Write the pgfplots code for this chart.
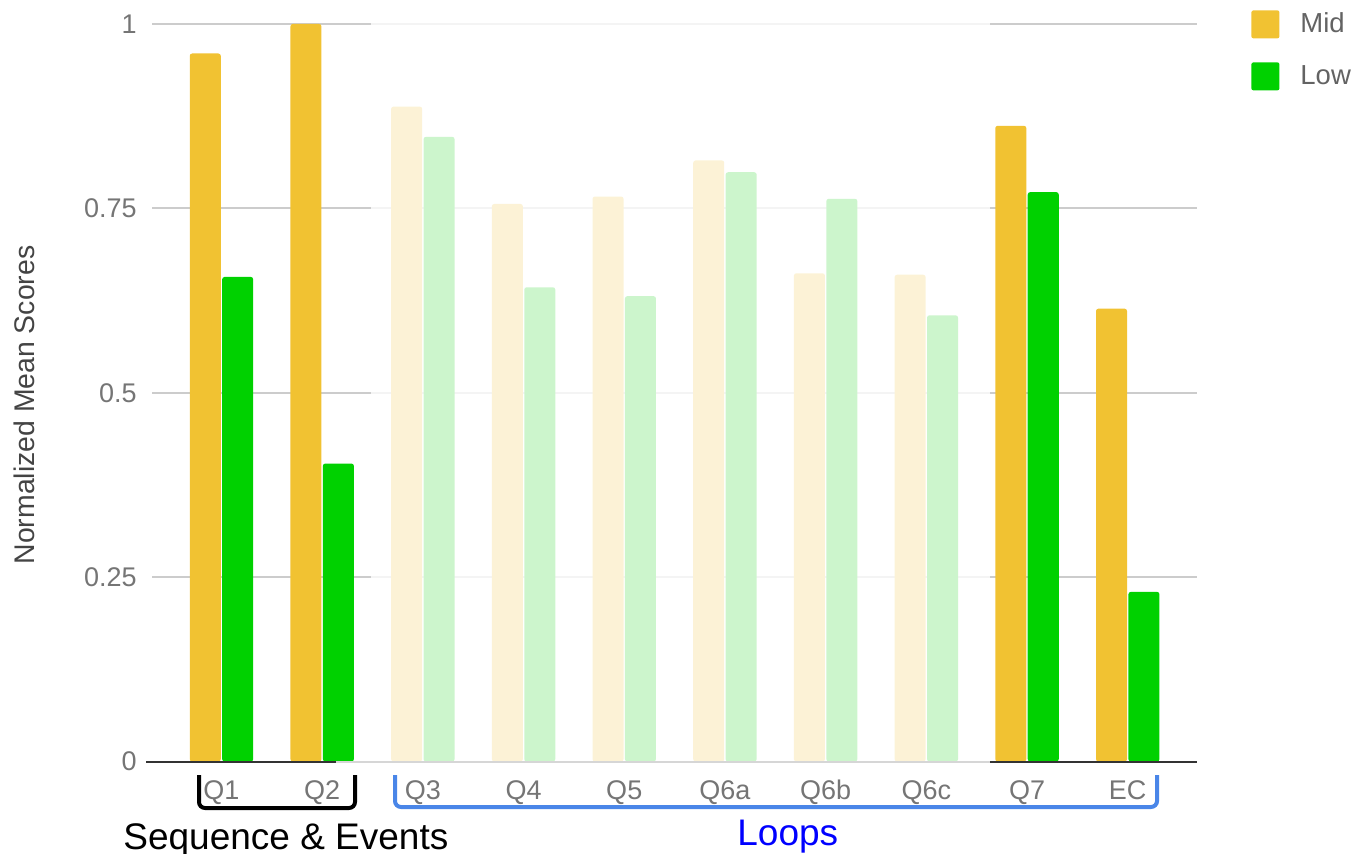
\documentclass[border=0pt]{standalone}
\usepackage{fontspec}
\setmainfont{Liberation Sans}
\usepackage{pgfplots}
\usepackage{pgfplotstable}
\pgfplotsset{compat=1.18}

\definecolor{midc}{RGB}{241,194,50}
\definecolor{lowc}{RGB}{0,209,0}
\definecolor{ticktxt}{RGB}{117,117,117}
\definecolor{titletxt}{RGB}{68,68,68}
\definecolor{gridc}{RGB}{204,204,204}
\definecolor{basec}{RGB}{51,51,51}
\definecolor{basefaded}{RGB}{214,214,214}
\definecolor{loopblue}{RGB}{74,134,232}

% normalized mean scores per question
\pgfplotstableread{
x mid   low
0 0.960 0.657
1 1.000 0.404
2 0.888 0.847
3 0.756 0.643
4 0.766 0.631
5 0.815 0.799
6 0.662 0.763
7 0.660 0.605
8 0.862 0.772
9 0.614 0.230
}\scores

\begin{document}
\begin{tikzpicture}
\path[use as bounding box] (0pt,0pt) rectangle (677pt,-427pt);
\begin{axis}[
  at={(76pt,-380.75pt)}, anchor=south west,
  scale only axis, width=522.5pt, height=368.75pt,
  xmin=-0.690, xmax=9.688, ymin=0, ymax=1,
  clip=false,
  axis line style={draw=none},
  major tick length=0pt,
  xtick={0,...,9},
  xticklabels={Q1,Q2,Q3,Q4,Q5,Q6a,Q6b,Q6c,Q7,EC},
  ytick={0,0.25,0.5,0.75,1},
  yticklabels={0,0.25,0.5,0.75,1},
  /pgf/number format/assume math mode=true,
  ymajorgrids,
  grid style={gridc, line width=1pt},
  tick label style={font=\fontsize{13.5pt}{15pt}\selectfont, text=ticktxt},
  xticklabel style={anchor=base, inner sep=0pt, yshift=-18.75pt},
  yticklabel style={anchor=east, inner sep=0pt, xshift=-7.5pt},
  ylabel={Normalized Mean Scores},
  ylabel style={at={(axis description cs:-0.1225,0.4834)}, anchor=center,
    rotate=0, font=\fontsize{14.2pt}{16pt}\selectfont, text=titletxt},
  legend style={at={(axis description cs:1.0517,1.019)}, anchor=north west,
    draw=none, fill=none, inner sep=0pt, row sep=12pt, column sep=10.5pt,
    nodes={inner sep=0pt},
    font=\fontsize{13.75pt}{16pt}\selectfont, text=ticktxt!85!black},
  legend cell align=left,
  legend image code/.code={\fill[#1, rounded corners=1pt] (0pt,-7pt) rectangle (14pt,7pt);},
]
\addplot[ybar, bar width=0.308, bar shift=-0.161, fill=midc, draw=none,
  rounded corners=1.2pt] table[x=x, y=mid] {\scores};
\addlegendentry{Mid}
\addplot[ybar, bar width=0.308, bar shift=0.161, fill=lowc, draw=none,
  rounded corners=1.2pt] table[x=x, y=low] {\scores};
\addlegendentry{Low}
\end{axis}

% highlight: fade the loop questions Q3--Q6c, then annotate the groups
\begin{scope}[x=0.5pt, y=-0.5pt]
  \fill[white, opacity=0.8] (371,12) rectangle (990,761.5);
  \draw[basec, line width=1pt] (146,761.5) -- (336,761.5);
  \draw[basefaded, line width=1pt] (336,761.5) -- (990,761.5);
  \draw[basec, line width=1pt] (990,761.5) -- (1197,761.5);

  \draw[black, line width=2pt, rounded corners=3pt]
    (199,775) -- (199,808) -- (355,808) -- (355,775);
  \draw[loopblue, line width=2pt, rounded corners=3pt]
    (395,775) -- (395,807) -- (1157,807) -- (1157,775);

  \node[anchor=base west, inner sep=0pt, font=\fontsize{18.5pt}{22pt}\selectfont]
    at (123,849) {Sequence \& Events};
  \node[anchor=base west, inner sep=0pt, text=blue, font=\fontsize{18.5pt}{22pt}\selectfont]
    at (737,845) {Loops};
\end{scope}
\end{tikzpicture}
\end{document}
